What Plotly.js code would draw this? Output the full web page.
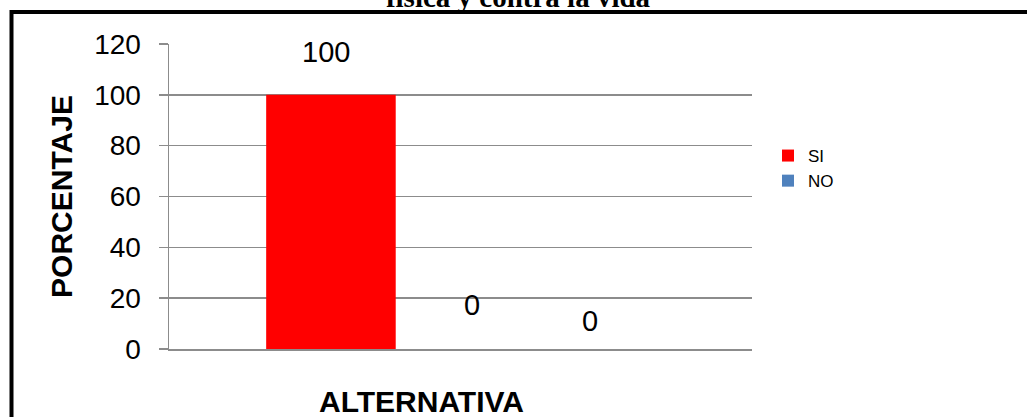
<!DOCTYPE html>
<html>
<head>
<meta charset="utf-8">
<script src="https://cdn.plot.ly/plotly-3.0.1.min.js"></script>
<style>
  html, body { margin: 0; padding: 0; background: #fff; }
  #chart { width: 1027px; height: 417px; }
</style>
</head>
<body>
<div id="chart"></div>
<script>
// ---- data ----
var categories = ['ALTERNATIVA'];
var seriesNames = ['SI', 'NO', ''];
var seriesValues = [[100], [0], [0]];
var seriesColors = ['#FF0000', '#4F81BD', '#9BBB59'];
var showInLegend = [true, true, false];
var yTickVals = [0, 20, 40, 60, 80, 100, 120];
var chartTitle = 'física y contra la vida';
var yTitle = 'PORCENTAJE';
var xTitle = 'ALTERNATIVA';

// ---- layout constants ----
var W = 1027, H = 417;
var M = {l: 169, r: 275, t: 44, b: 68};
var plotW = W - M.l - M.r;
var bargap = 1 / 3;
var nSeries = seriesNames.length;
var barW = plotW * (1 - bargap) / nSeries;
var labelDx = [-5, 11, 0];
var labelDy = [43, 44, 28];

var traces = seriesNames.map(function (name, i) {
  return {
    type: 'bar',
    name: name,
    x: categories,
    y: seriesValues[i],
    marker: {color: seriesColors[i]},
    showlegend: showInLegend[i],
    hoverinfo: 'none'
  };
});

var annotations = [];
seriesNames.forEach(function (name, i) {
  seriesValues[i].forEach(function (v, j) {
    annotations.push({
      x: categories[j], y: v, xref: 'x', yref: 'y',
      text: String(v), showarrow: false,
      xanchor: 'center', yanchor: 'middle',
      xshift: (i - (nSeries - 1) / 2) * barW + labelDx[i],
      yshift: labelDy[i],
      font: {family: 'Liberation Sans, Arial, sans-serif', size: 29, color: '#000'}
    });
  });
});
annotations.push({
  xref: 'paper', yref: 'paper', x: (421 - M.l) / plotW, y: -0.172,
  xanchor: 'center', yanchor: 'middle', showarrow: false,
  text: '<b>' + xTitle + '</b>',
  font: {family: 'Liberation Sans, Arial, sans-serif', size: 30, color: '#000'}
});

var layout = {
  width: W, height: H,
  margin: M,
  paper_bgcolor: '#fff', plot_bgcolor: '#fff',
  barmode: 'group',
  bargap: bargap, bargroupgap: 0,
  title: {
    text: '<b>' + chartTitle + '</b>',
    font: {family: 'Liberation Serif, Times New Roman, serif', size: 29, color: '#000'},
    x: 518 / W, xref: 'container', xanchor: 'center',
    y: 1 - 7 / H, yref: 'container', yanchor: 'bottom'
  },
  xaxis: {
    type: 'category',
    showticklabels: false, ticks: '',
    showgrid: false, zeroline: false,
    showline: true, linecolor: '#8c8c8c', linewidth: 1.5,
    fixedrange: true
  },
  yaxis: {
    range: [0, 120], tickvals: yTickVals, ticktext: yTickVals.map(String),
    ticks: 'outside', ticklen: 9, tickcolor: '#8c8c8c', tickwidth: 1.5,
    ticklabelstandoff: 12,
    showgrid: true, gridcolor: '#8c8c8c', gridwidth: 1.5,
    zeroline: false,
    showline: true, linecolor: '#8c8c8c', linewidth: 1.5,
    tickfont: {family: 'Liberation Sans, Arial, sans-serif', size: 28, color: '#000'},
    title: {
      text: '<b>' + yTitle + '</b>',
      font: {family: 'Liberation Sans, Arial, sans-serif', size: 30, color: '#000'},
      standoff: 12
    },
    automargin: false,
    fixedrange: true
  },
  legend: {
    x: (768 - M.l) / plotW, xanchor: 'left',
    y: (H - M.b - 138) / (H - M.t - M.b), yanchor: 'top',
    font: {family: 'Liberation Sans, Arial, sans-serif', size: 17, color: '#000'},
    bgcolor: 'rgba(0,0,0,0)', borderwidth: 0
  },
  annotations: annotations,
  shapes: [{
    type: 'rect', xref: 'paper', yref: 'paper',
    x0: (11.5 - M.l) / plotW, x1: 1.8,
    y0: -0.6, y1: 1 + (M.t - 12) / (H - M.t - M.b),
    line: {color: '#000', width: 4}, fillcolor: 'rgba(0,0,0,0)',
    layer: 'above'
  }]
};

Plotly.newPlot('chart', traces, layout, {displayModeBar: false, staticPlot: true});
</script>
</body>
</html>
